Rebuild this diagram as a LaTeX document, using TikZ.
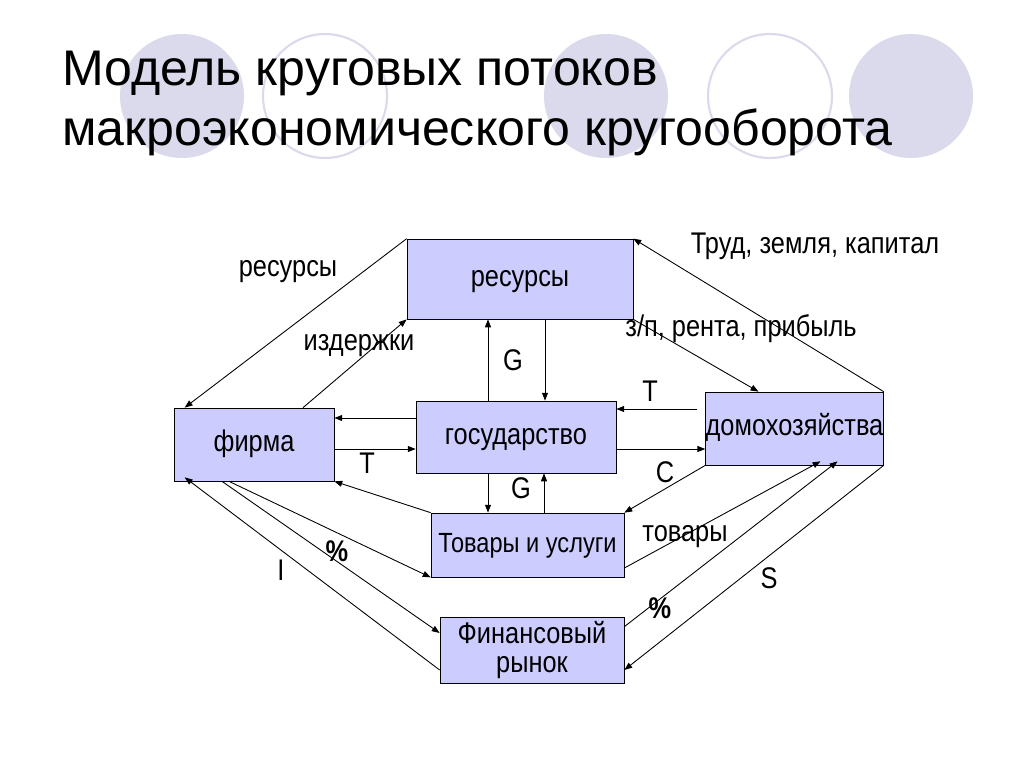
\documentclass[tikz,border=0pt]{standalone}
\usepackage{fontspec}
\setmainfont{Liberation Sans}
\newfontfamily\narrowfont[FakeStretch=0.85]{Liberation Sans}
\usepackage{xcolor}
\usepackage{tikz}
\usetikzlibrary{arrows.meta,positioning,calc}
\definecolor{boxblue}{RGB}{204,204,255}
\definecolor{decoblue}{RGB}{218,218,236}

\begin{document}
\begin{tikzpicture}[
  x=0.02cm, y=-0.02cm,
  boxbase/.style={draw, rectangle, fill=boxblue, inner sep=0pt, font=\narrowfont\fontsize{17}{17}\selectfont},
  block/.style={boxbase, align=center},
  oneline/.style={boxbase, text height=8.5pt, text depth=0pt},
  lbl/.style={inner sep=0pt, font=\narrowfont\fontsize{17}{17}\selectfont},
  pct/.style={inner sep=0pt, font=\narrowfont\fontsize{17}{17}\selectfont\bfseries},
  flow/.style={-{Triangle[length=4.5pt,width=3.4pt]}, line width=0.5pt},
  deco/.style={fill=decoblue},
  ring/.style={draw=decoblue, line width=1.2pt}
]
\useasboundingbox[fill=white] (0,0) rectangle (1024,768);
\fill[deco] (182,96) circle (1.24cm);
\draw[ring] (325,96) circle (1.24cm);
\fill[deco] (606,96) circle (1.24cm);
\draw[ring] (770,96) circle (1.24cm);
\fill[deco] (911,96) circle (1.24cm);
\node[anchor=base west, inner sep=0pt, font=\fontsize{28.5}{28.5}\selectfont] (title1) at (62,85) {Модель круговых потоков};
\node[anchor=base west, inner sep=0pt, font=\fontsize{28.5}{28.5}\selectfont] (title2) at (62,145) {макроэкономического кругооборота};

\node[oneline, minimum width=4.52cm, minimum height=1.6cm] (res) at (520,279) {ресурсы};
\node[oneline, minimum width=3.2cm, minimum height=1.46cm] (firm) at (254,444.5) {фирма};
\node[oneline, minimum width=4cm, minimum height=1.44cm] (gov) at (516,437) {государство};
\node[oneline, minimum width=3.54cm, minimum height=1.46cm] (house) at (794.5,428.5) {домохозяйства};
\node[oneline, minimum width=3.86cm, minimum height=1.28cm, font=\narrowfont\fontsize{15.8}{17}\selectfont] (goods) at (527.5,545) {Товары и услуги};
\node[block, minimum width=3.68cm, minimum height=1.32cm] (fin) at (532,650) {Финансовый\\рынок};

\draw[flow] (res.north west) -- ($(firm.north west)+(11,0)$);
\draw[flow] ($(firm.north)+(49,0)$) -- (res.south west);
\draw[flow] (gov.north) ++(-28,0) coordinate (g1) -- (g1 |- res.south);
\draw[flow] (res.south) ++(25,0) coordinate (g2) -- (g2 |- gov.north);
\draw[flow] (gov.west) ++(0,-19) coordinate (t1) -- (t1 -| firm.east);
\draw[flow] (firm.east) ++(0,4.5) coordinate (t2) -- (t2 -| gov.west);
\draw[flow] (house.west) ++(-8,-19.5) coordinate (t3) -- (t3 -| gov.east);
\draw[flow] (gov.east) ++(0,12) coordinate (c1) -- (c1 -| house.west);
\draw[flow] (house.north east) -- (res.north east);
\draw[flow] (res.south east) -- ($(house.north)+(-36,0)$);
\draw[flow] (house.south west) -- (goods.north east);
\draw[flow] (goods.north west) -- (firm.south east);
\draw[flow] (gov.south) ++(-28,0) coordinate (g3) -- (g3 |- goods.north);
\draw[flow] (goods.north) ++(16.5,0) coordinate (g4) -- (g4 |- gov.south);
\draw[flow] ($(firm.south)+(-25,0)$) -- (goods.south west);
\draw[flow] ($(firm.south)+(-32,0)$) -- ($(fin.west)+(0,-17)$);
\draw[flow] ($(fin.west)+(0,20)$) -- ($(firm.south west)+(11,-4)$);
\draw[flow] ($(goods.east)+(0,23)$) -- ($(house.south)+(26,-4)$);
\draw[flow] ($(fin.north east)+(0,10)$) -- ($(house.south)+(43,-4)$);
\draw[flow] (house.south east) -- ($(fin.east)+(0,20)$);

\node[lbl] (lres) at (288,272) {ресурсы};
\node[lbl] (lcost) at (359,346) {издержки};
\node[lbl] (lg1) at (513,360) {G};
\node[lbl] (lt1) at (367,463) {T};
\node[lbl] (lt2) at (650,391) {T};
\node[lbl] (lc) at (665,472) {C};
\node[lbl] (lg2) at (521,488) {G};
\node[pct] (lp1) at (337,551) {\%};
\node[lbl] (li) at (281,570) {I};
\node[lbl] (lgoods) at (685,537) {товары};
\node[pct] (lp2) at (660,608) {\%};
\node[lbl] (ls) at (769,578) {S};
\node[lbl] (lfactors) at (815,246) {Труд, земля, капитал};
\node[lbl] (lincome) at (741,329) {з/п, рента, прибыль};
\end{tikzpicture}
\end{document}
